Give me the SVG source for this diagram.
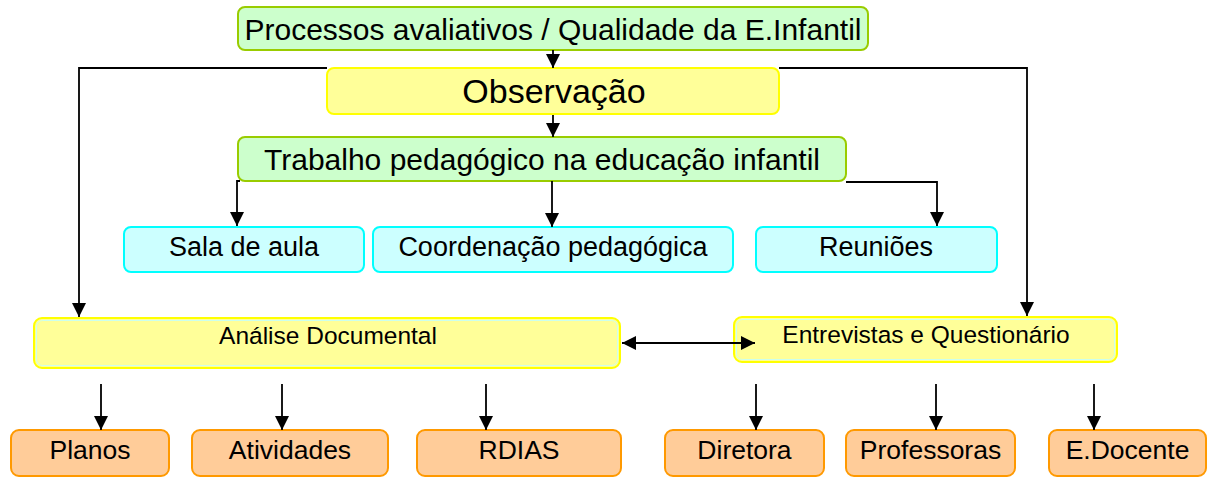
<svg xmlns="http://www.w3.org/2000/svg" width="1211" height="479" viewBox="0 0 1211 479">
<style>
text{font-family:"Liberation Sans",Arial,sans-serif;fill:#000;text-anchor:middle}
.g{fill:#CCFFCC;stroke:#99CC00;stroke-width:2}
.y{fill:#FFFF99;stroke:#FFFF00;stroke-width:2}
.yi{fill:none;stroke:#CCFFEE;stroke-width:1}
.c{fill:#CCFFFF;stroke:#00FFFF;stroke-width:2}
.o{fill:#FFCC99;stroke:#FF9900;stroke-width:2}
.ln{fill:none;stroke:#000;stroke-width:1.8}
.a{marker-end:url(#ah)}
</style>
<defs>
<marker id="ah" markerUnits="userSpaceOnUse" markerWidth="14" markerHeight="14" refX="14" refY="7" orient="auto">
<path d="M0,0 L14,7 L0,14 z" fill="#000"/>
</marker>
<marker id="as" markerUnits="userSpaceOnUse" markerWidth="14" markerHeight="14" refX="14" refY="7" orient="auto-start-reverse">
<path d="M0,0 L14,7 L0,14 z" fill="#000"/>
</marker>
</defs>
<g id="n-processos">
<rect class="g" x="238" y="7" width="630" height="43" rx="7"/>
<text x="553" y="40" font-size="30">Processos avaliativos / Qualidade da E.Infantil</text>
</g>
<g id="n-observacao">
<rect class="y" x="327" y="68" width="452" height="46" rx="7"/>
<text x="554" y="103" font-size="34">Observação</text>
</g>
<g id="n-trabalho">
<rect class="g" x="238" y="137" width="608" height="44" rx="7"/>
<text x="542" y="170" font-size="30">Trabalho pedagógico na educação infantil</text>
</g>
<g id="n-sala">
<rect class="c" x="124" y="227" width="240" height="45" rx="7"/>
<text x="244" y="256" font-size="27">Sala de aula</text>
</g>
<g id="n-coordenacao">
<rect class="c" x="373" y="227" width="360" height="45" rx="7"/>
<text x="553" y="256" font-size="27">Coordenação pedagógica</text>
</g>
<g id="n-reunioes">
<rect class="c" x="756" y="227" width="241" height="45" rx="7"/>
<text x="876" y="256" font-size="27">Reuniões</text>
</g>
<g id="n-analise">
<rect class="y" x="34" y="318" width="586" height="50" rx="8"/>
<rect class="yi" x="36.5" y="320.5" width="581" height="45" rx="6"/>
<text x="328" y="344" font-size="24.5">Análise Documental</text>
</g>
<g id="n-entrevistas">
<rect class="y" x="734" y="317" width="383" height="45" rx="8"/>
<rect class="yi" x="736.5" y="319.5" width="378" height="40" rx="6"/>
<text x="926" y="343" font-size="24.5">Entrevistas e Questionário</text>
</g>
<g id="n-planos">
<rect class="o" x="11" y="430" width="158" height="46" rx="8"/>
<text x="90" y="459" font-size="26.5">Planos</text>
</g>
<g id="n-atividades">
<rect class="o" x="192" y="430" width="196" height="46" rx="8"/>
<text x="290" y="459" font-size="26.5">Atividades</text>
</g>
<g id="n-rdias">
<rect class="o" x="417" y="430" width="204" height="46" rx="8"/>
<text x="519" y="459" font-size="26.5">RDIAS</text>
</g>
<g id="n-diretora">
<rect class="o" x="665" y="430" width="159" height="46" rx="8"/>
<text x="744.5" y="459" font-size="26.5">Diretora</text>
</g>
<g id="n-professoras">
<rect class="o" x="846" y="430" width="169" height="46" rx="8"/>
<text x="930.5" y="459" font-size="26.5">Professoras</text>
</g>
<g id="n-edocente">
<rect class="o" x="1049" y="430" width="157" height="46" rx="8"/>
<text x="1127.5" y="459" font-size="26.5">E.Docente</text>
</g>
<g id="connectors">
<path class="ln a" d="M553,50 V68"/>
<path class="ln a" d="M327,68 H79 V317"/>
<path class="ln a" d="M779,68 H1027 V316"/>
<path class="ln a" d="M553,115 V137"/>
<path class="ln a" d="M240,181 H237 V226"/>
<path class="ln a" d="M552,181 V227"/>
<path class="ln a" d="M846,182 H937 V226"/>
<path class="ln" d="M622,343 H755" marker-start="url(#as)" marker-end="url(#as)"/>
<path class="ln a" d="M101,384 V430"/>
<path class="ln a" d="M282,384 V430"/>
<path class="ln a" d="M486,384 V430"/>
<path class="ln a" d="M756,384 V430"/>
<path class="ln a" d="M936,384 V430"/>
<path class="ln a" d="M1094,384 V430"/>
</g>
</svg>
